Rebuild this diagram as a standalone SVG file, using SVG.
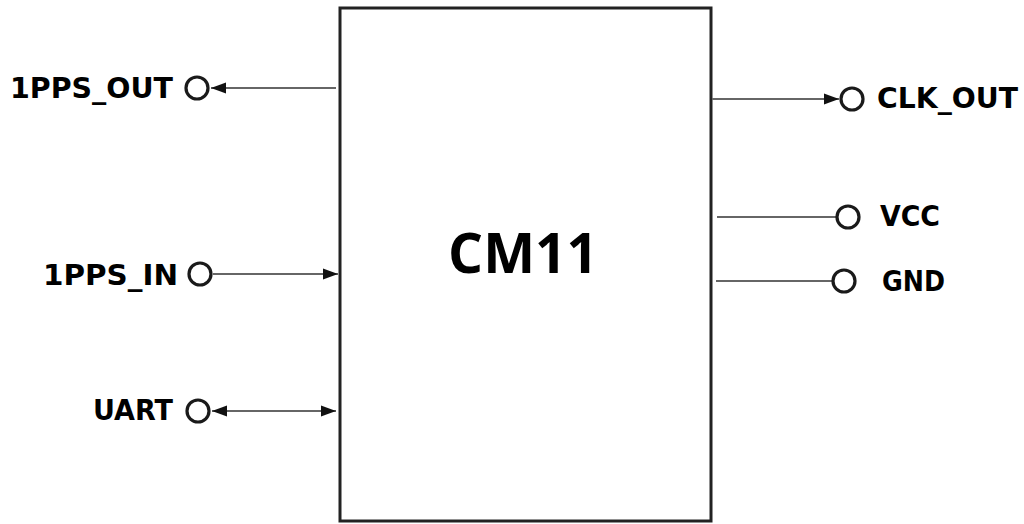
<svg xmlns="http://www.w3.org/2000/svg" width="1024" height="524" viewBox="0 0 1024 524">
<style>
.lbl{font-family:"DejaVu Sans",Verdana,sans-serif;font-weight:bold;font-size:28px;fill:#000}
.title{font-family:"Open Sans","DejaVu Sans",sans-serif;font-weight:bold;font-size:55px;fill:#000}
.wire{stroke:#666;stroke-width:2.2;fill:none}
.pin{fill:#fff;stroke:#1a1a1a;stroke-width:3.2}
.box{fill:#fff;stroke:#222;stroke-width:3}
</style>
<defs>
<marker id="arr" markerUnits="userSpaceOnUse" markerWidth="15" markerHeight="12" viewBox="0 0 15 12" refX="15" refY="6" orient="auto">
<path d="M0,0.5 L15,6 L0,11.5 Z" fill="#111"/>
</marker>
</defs>
<g id="cm11">
<rect class="box" x="340" y="8" width="371" height="513"/>
<text class="title" x="523" y="273" text-anchor="middle">CM11</text>
</g>
<g id="connectors">
<line class="wire" x1="336" y1="88" x2="211" y2="88" marker-end="url(#arr)"/>
<line class="wire" x1="213" y1="274" x2="338" y2="274" marker-end="url(#arr)"/>
<line class="wire" x1="274" y1="411" x2="212" y2="411" marker-end="url(#arr)"/>
<line class="wire" x1="274" y1="411" x2="336" y2="411" marker-end="url(#arr)"/>
<line class="wire" x1="712" y1="99" x2="839" y2="99" marker-end="url(#arr)"/>
<line class="wire" x1="717" y1="217" x2="836" y2="217"/>
<line class="wire" x1="716" y1="281" x2="832" y2="281"/>
</g>
<g id="pin-1pps-out">
<circle class="pin" cx="197" cy="88" r="11"/>
<text class="lbl" x="10" y="98" textLength="163" lengthAdjust="spacingAndGlyphs">1PPS_OUT</text>
</g>
<g id="pin-1pps-in">
<circle class="pin" cx="200" cy="274" r="11"/>
<text class="lbl" x="43" y="285" textLength="135" lengthAdjust="spacingAndGlyphs">1PPS_IN</text>
</g>
<g id="pin-uart">
<circle class="pin" cx="198" cy="411" r="11"/>
<text class="lbl" x="93" y="420" textLength="80" lengthAdjust="spacingAndGlyphs">UART</text>
</g>
<g id="pin-clk-out">
<circle class="pin" cx="852" cy="99" r="11"/>
<text class="lbl" x="877" y="108" textLength="141" lengthAdjust="spacingAndGlyphs">CLK_OUT</text>
</g>
<g id="pin-vcc">
<circle class="pin" cx="848" cy="217" r="11"/>
<text class="lbl" x="880" y="226" textLength="60" lengthAdjust="spacingAndGlyphs">VCC</text>
</g>
<g id="pin-gnd">
<circle class="pin" cx="844" cy="281" r="11"/>
<text class="lbl" x="882" y="291" textLength="63" lengthAdjust="spacingAndGlyphs">GND</text>
</g>
</svg>
